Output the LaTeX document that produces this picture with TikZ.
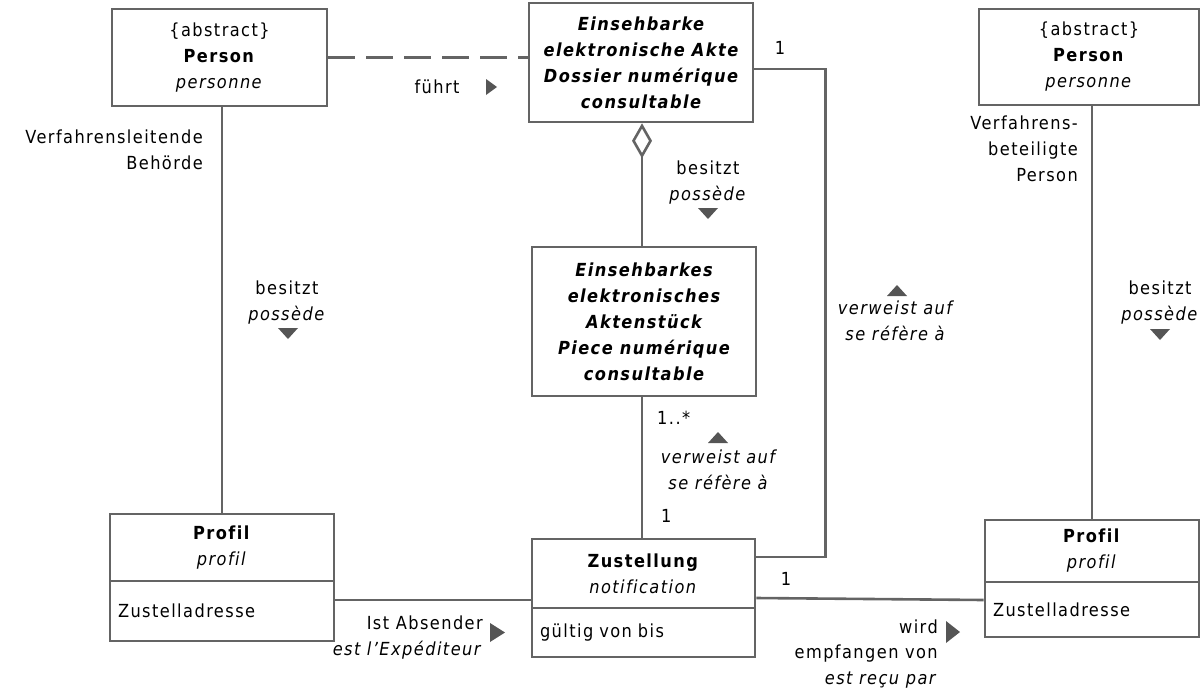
\documentclass[tikz,border=0pt]{standalone}
\usepackage{fontspec}
\setmainfont{DejaVu Sans Condensed}[LetterSpace=8, Ligatures=NoCommon]
\usetikzlibrary{arrows.meta,calc}
\definecolor{edge}{HTML}{646464}
\definecolor{mark}{HTML}{555555}
\newcommand\umlfont{\fontsize{18}{26}\selectfont}
% keep f and i apart (no fi ligature)
\newcommand\fsep{\kern1.4pt}
\tikzset{
  cls/.style={draw=edge, line width=2.6pt, fill=white, align=center, inner sep=0pt, font=\umlfont},
  clsbi/.style={cls, font=\umlfont\bfseries\itshape},
  attr/.style={cls, align=left, inner xsep=8pt},
  lbl/.style={inner sep=0pt, font=\umlfont},
  link/.style={draw=edge, line width=2.6pt},
  ptr/.style={fill=mark}
}
\begin{document}
\begin{tikzpicture}[x=1pt,y=-1pt]
\useasboundingbox (0,0) rectangle (1202,694);

% classes
\node[cls, minimum width=215pt, minimum height=97pt] (lperson) at (219.5,57.5)
  {\{abstract\}\\\textbf{Person}\\\textit{personne}};
\node[cls, minimum width=220pt, minimum height=96pt] (rperson) at (1089,57)
  {\{abstract\}\\\textbf{Person}\\\textit{personne}};
\node[clsbi, minimum width=224pt, minimum height=119pt] (akte) at (641,62.5)
  {Einsehbarke\\elektronische Akte\\Dossier numérique\\consultable};
\node[clsbi, minimum width=224pt, minimum height=149pt] (piece) at (644,321.5)
  {Einsehbarkes\\elektronisches\\Aktenstück\\Piece numérique\\consultable};

\node[cls, minimum width=224pt, minimum height=67pt] (lprof) at (222,547.5)
  {\textbf{Prof\fsep il}\\\textit{prof\fsep il}};
\node[attr, text width=208pt, minimum height=60pt] (lprofa) at (222,611) {Zustelladresse};

\node[cls, minimum width=223pt, minimum height=69pt] (zust) at (643.5,573.5)
  {\textbf{Zustellung}\\\textit{notif\fsep ication}};
\node[attr, text width=207pt, minimum height=49pt] (zusta) at (643.5,632.5) {gültig von bis};

\node[cls, minimum width=214pt, minimum height=62pt] (rprof) at (1092,551)
  {\textbf{Prof\fsep il}\\\textit{prof\fsep il}};
\node[attr, text width=198pt, minimum height=55pt] (rprofa) at (1092,609.5) {Zustelladresse};

% associations
\draw[link, dash pattern=on 27pt off 11pt] (lperson.east) -- (lperson.east -| akte.west);
\draw[link] (lprof.north |- lperson.south) -- (lprof.north);
\draw[link] (rprof.north |- rperson.south) -- (rprof.north);
\draw[link, {Diamond[open, length=35pt, width=20pt]}-] ([xshift=1pt]akte.south) -- ([xshift=1pt]akte.south |- piece.north);
\draw[link] ([xshift=-2pt]piece.south) -- ([xshift=-2pt]piece.south |- zust.north);
\draw[link] ($(akte.east)+(0,6.5)$) -| ($(zust.east)+(69,-16.5)$) -- ($(zust.east)+(0,-16.5)$);
\draw[link] ($(lprofa.east)+(0,-11)$) -- ($(zust.west)+(0,26.5)$);
\draw[link] ($(zust.east)+(0,24.5)$) -- ($(rprofa.west)+(0,-9.5)$);

% role names, multiplicities and association names
\node[lbl] (fuehrt) at (437,87) {führt};
\fill[ptr] (486,79) -- (486,95) -- (497,87) -- cycle;

\node[lbl, align=right, anchor=east] (roleL) at (203,150) {Verfahrensleitende\\Behörde};
\node[lbl, align=right, anchor=east] (roleR) at (1078,149) {Verfahrens-\\beteiligte\\Person};

\node[lbl, align=center] (ownL) at (287,302.5) {besitzt\\\textit{possède}};
\fill[ptr] (278,328) -- (298,328) -- (288,339) -- cycle;
\node[lbl, align=center] (ownA) at (708,182.5) {besitzt\\\textit{possède}};
\fill[ptr] (698,208) -- (718,208) -- (708,219) -- cycle;
\node[lbl, align=center] (ownR) at (1160,303) {besitzt\\\textit{possède}};
\fill[ptr] (1150,329) -- (1170,329) -- (1160,340) -- cycle;

\node[lbl] (mulAkte) at (780,48) {1};
\fill[ptr] (887,296) -- (907,296) -- (897,285) -- cycle;
\node[lbl, align=center, font=\umlfont\itshape] (refR) at (895,320.5) {verweist auf\\se réfère à};

\node[lbl, anchor=west] (mulPiece) at (657,418) {1..*};
\fill[ptr] (708,443) -- (728,443) -- (718,432) -- cycle;
\node[lbl, align=center, font=\umlfont\itshape] (refM) at (718,470) {verweist auf\\se réfère à};
\node[lbl, anchor=west] (mulZust) at (661,516) {1};

\node[lbl, align=right, anchor=east] (sender) at (483,638) {Ist Absender\\\textit{est l’Expéditeur}};
\fill[ptr] (490,623) -- (490,642) -- (505,632.5) -- cycle;

\node[lbl] (mulRecv) at (786,579) {1};
\node[lbl, anchor=east] (wird) at (938,627) {wird};
\fill[ptr] (946,621) -- (946,643) -- (960,632) -- cycle;
\node[lbl, align=right, anchor=east] (recv) at (938,667) {empfangen von\\\textit{est reçu par}};
\end{tikzpicture}
\end{document}
